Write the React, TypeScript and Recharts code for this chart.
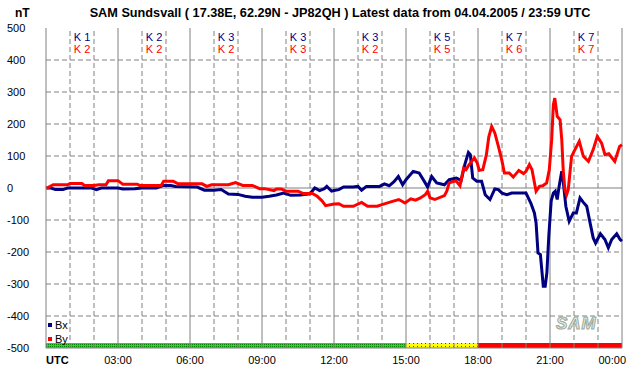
import React from "react";
import { LineChart, Line, XAxis, YAxis, ReferenceLine, ReferenceArea } from "recharts";

// Bx (blue) readings: hour of day (UTC) and value in nT
const bxHours = [
  0, 0.2, 0.4, 0.7, 0.9, 1.5, 1.9, 2.1, 2.3, 3.0, 3.2, 3.7, 4.0, 4.6, 4.9, 5.2, 5.4, 5.8, 6.3, 6.6,
  7.0, 7.3, 7.6, 8.0, 8.3, 8.6, 9.0, 9.3, 9.6, 9.9, 10.2, 10.6, 11.0, 11.2, 11.4, 11.6, 11.7, 11.9, 12.0, 12.2,
  12.4, 12.8, 13.0, 13.15, 13.35, 13.9, 14.1, 14.3, 14.5, 14.68, 14.86, 15.0, 15.3, 15.55, 15.8, 15.9, 16.07, 16.28, 16.6, 16.8,
  17.1, 17.3, 17.45, 17.6, 17.68, 17.78, 17.95, 18.15, 18.3, 18.5, 18.7, 18.85, 19.0, 19.2, 19.4, 19.6, 20.0, 20.2, 20.35, 20.42,
  20.5, 20.6, 20.72, 20.8, 20.87, 20.95, 21.05, 21.14, 21.22, 21.3, 21.38, 21.49, 21.53, 21.66, 21.8, 21.97, 22.1, 22.25, 22.39, 22.53,
  22.67, 22.8, 22.9, 23.1, 23.29, 23.43, 23.57, 23.78, 23.92, 24.0,
];
const bxValues = [
  0, 0, -5, -5, 0, 0, 0, -5, 0, 0, -3, -2, 0, 0, 8, 8, 5, 4, 3, -7,
  -7, -5, -19, -20, -26, -29, -29, -26, -22, -16, -23, -22, -18, 0, -8, -2, 5, -10, -8, -5,
  3, 3, 5, -7, 5, 5, 13, 7, 20, 36, 10, 26, 52, 47, 16, 3, 36, 16, 10, 26,
  31, 24, 73, 111, 104, 31, 21, 21, -21, -36, -3, -5, -16, -21, -16, -16, -16, -47, -78, -109,
  -203, -208, -307, -307, -265, -150, -40, -16, -10, -36, 5, 52, 36, -57, -104, -78, -78, -31, -45, -57,
  -109, -156, -172, -143, -161, -187, -161, -143, -161, -166,
];

// By (red) readings
const byHours = [
  0, 0.1, 0.3, 0.9, 1.0, 1.5, 1.6, 2.0, 2.2, 2.5, 2.6, 3.0, 3.2, 3.8, 3.9, 4.8, 4.9, 5.3, 5.5, 6.5,
  6.7, 6.9, 7.6, 7.9, 8.2, 8.6, 8.9, 9.1, 9.5, 9.6, 9.8, 10.0, 10.5, 10.7, 11.1, 11.3, 11.5, 11.65, 12.0, 12.2,
  12.4, 12.8, 13.15, 13.4, 13.8, 14.0, 14.33, 14.7, 14.85, 14.96, 15.2, 15.4, 15.6, 15.8, 15.9, 16.0, 16.2, 16.6, 16.7, 16.8,
  17.0, 17.1, 17.25, 17.4, 17.5, 17.63, 17.85, 17.97, 18.05, 18.2, 18.35, 18.45, 18.57, 18.7, 18.85, 18.99, 19.1, 19.3, 19.47, 19.7,
  19.9, 20.0, 20.14, 20.25, 20.42, 20.56, 20.7, 20.86, 20.97, 21.07, 21.14, 21.2, 21.3, 21.42, 21.49, 21.55, 21.62, 21.69, 21.76, 21.83,
  21.9, 22.04, 22.22, 22.39, 22.6, 22.8, 22.97, 23.15, 23.29, 23.45, 23.7, 23.9, 24.0,
];
const byValues = [
  0, 2, 10, 10, 14, 14, 8, 8, 10, 10, 23, 23, 12, 12, 8, 8, 21, 21, 13, 13,
  5, 10, 10, 17, 8, 8, -2, -2, -8, -3, -3, -10, -10, -17, -17, -26, -40, -55, -50, -49,
  -57, -57, -45, -57, -57, -52, -44, -36, -42, -47, -34, -38, -31, -21, -10, -31, -36, -24, -10, 16,
  21, 21, 7, 62, 57, 73, 94, 78, 55, 57, 104, 160, 192, 172, 130, 88, 47, 47, 34, 55,
  45, 52, 73, 57, -10, 5, 7, 16, 57, 151, 260, 281, 224, 213, 151, 57, -5, -21, -5, 47,
  99, 120, 146, 99, 83, 120, 161, 140, 104, 107, 83, 130, 135,
];

const seriesNames = ["Bx", "By"];
const seriesColors = ["#000080", "#ff0000"];

// K indices per 3-hour block
const kBlockHours = [1.5, 4.5, 7.5, 10.5, 13.5, 16.5, 19.5, 22.5];
const kBx = ["K 1", "K 2", "K 3", "K 3", "K 3", "K 5", "K 7", "K 7"];
const kBy = ["K 2", "K 2", "K 2", "K 3", "K 2", "K 5", "K 6", "K 7"];

const hourTicks = [0, 3, 6, 9, 12, 15, 18, 21, 24];
const timeLabels = ["UTC", "03:00", "06:00", "09:00", "12:00", "15:00", "18:00", "21:00", "00:00"];
const valueTicks = [500, 400, 300, 200, 100, 0, -100, -200, -300, -400, -500];
const gridHours = Array.from({ length: 24 }, (_, i) => i + 1);
const gridValues = [400, 300, 200, 100, -100, -200, -300, -400];

// activity bar along the bottom: start hour, end hour, fill
const barStarts = [0, 15, 18];
const barEnds = [15, 18, 24];
const barFills = ["url(#greenDots)", "url(#yellowDots)", "#ff0000"];

const bxData = bxHours.map((t, i) => ({ t, v: bxValues[i] }));
const byData = byHours.map((t, i) => ({ t, v: byValues[i] }));

const font = "'Liberation Sans', Arial, sans-serif";
const grey = "#808080";

const TimeTick = (props: any) => {
  const { x, payload, index } = props;
  const first = index === 0;
  const last = index === timeLabels.length - 1;
  return (
    <text
      x={last ? x + 4 : x}
      y={364}
      textAnchor={first ? "start" : last ? "end" : "middle"}
      fontFamily={font}
      fontSize={11}
      fontWeight={first ? "bold" : "normal"}
      fill="#000"
    >
      {timeLabels[index] ?? payload.value}
    </text>
  );
};

const ValueTick = (props: any) => {
  const { y, payload } = props;
  return (
    <text x={7} y={y + 4} textAnchor="start" fontFamily={font} fontSize={11} fill="#000">
      {String(payload.value)}
    </text>
  );
};

const UnitLabel = () => (
  <text x={15} y={17} textAnchor="start" fontFamily={font} fontSize={12} fontWeight="bold" fill="#000">
    nT
  </text>
);

const kLabel = (i: number) => (props: any) => {
  const { viewBox } = props;
  const x = viewBox.x;
  const top = viewBox.y;
  return (
    <g fontFamily={font} fontSize={11} textAnchor="middle">
      <text x={x} y={top + 13} fill={seriesColors[0]}>{kBx[i]}</text>
      <text x={x} y={top + 25} fill={seriesColors[1]}>{kBy[i]}</text>
    </g>
  );
};

export default function App() {
  return (
    <div style={{ position: "absolute", left: 0, top: 0, width: 642, height: 376, background: "#fff", fontFamily: font }}>
      <LineChart width={642} height={376} data={bxData} margin={{ top: 28, right: 20, left: 0, bottom: 0 }}>
        <defs>
          <pattern id="greenDots" width="2" height="2" patternUnits="userSpaceOnUse">
            <rect width="2" height="2" fill="#22dd22" />
            <rect width="1" height="1" fill="#008800" />
          </pattern>
          <pattern id="yellowDots" width="4" height="3" patternUnits="userSpaceOnUse">
            <rect width="4" height="3" fill="#ffff00" />
            <rect x="1" y="1" width="1" height="1" fill="#ff0000" />
          </pattern>
        </defs>
        <XAxis
          dataKey="t"
          type="number"
          domain={[0, 24]}
          ticks={hourTicks}
          interval={0}
          height={28}
          axisLine={{ stroke: grey }}
          tickLine={false}
          tick={<TimeTick />}
        />
        <YAxis
          type="number"
          domain={[-500, 500]}
          ticks={valueTicks}
          interval={0}
          width={46}
          axisLine={{ stroke: grey }}
          tickLine={false}
          tick={<ValueTick />}
          label={<UnitLabel />}
        />
        {gridValues.map(v => (
          <ReferenceLine key={"h" + v} y={v} stroke={grey} strokeDasharray="5 3" />
        ))}
        <ReferenceLine y={0} stroke={grey} />
        {gridHours.map(h => (
          <ReferenceLine key={"v" + h} x={h} stroke={grey} strokeDasharray={h % 3 === 0 ? undefined : "5 3"} />
        ))}
        {kBlockHours.map((h, i) => (
          <ReferenceLine key={"k" + i} x={h} stroke="none" label={kLabel(i)} />
        ))}
        {barStarts.map((s, i) => (
          <ReferenceArea key={"bar" + i} x1={s} x2={barEnds[i]} y1={-500} y2={-484} fill={barFills[i]} fillOpacity={1} stroke="none" />
        ))}
        <Line data={bxData} dataKey="v" name={seriesNames[0]} stroke={seriesColors[0]} strokeWidth={3} dot={false} type="linear" isAnimationActive={false} />
        <Line data={byData} dataKey="v" name={seriesNames[1]} stroke={seriesColors[1]} strokeWidth={3} dot={false} type="linear" isAnimationActive={false} />
      </LineChart>
      <div style={{ position: "absolute", zIndex: 5, left: 40, width: 600, top: 5, fontSize: 12.7, fontWeight: "bold", lineHeight: "16px", textAlign: "center", whiteSpace: "nowrap" }}>
        SAM Sundsvall ( 17.38E, 62.29N - JP82QH ) Latest data from 04.04.2005 / 23:59 UTC
      </div>
      <div style={{ position: "absolute", zIndex: 5, left: 48, top: 318, fontSize: 11, lineHeight: "14px" }}>
        {seriesNames.map((n, i) => (
          <div key={n} style={{ display: "flex", alignItems: "center" }}>
            <span style={{ display: "inline-block", width: 4, height: 4, background: seriesColors[i], marginRight: 3 }} />
            {n}
          </div>
        ))}
      </div>
      <div
        style={{
          position: "absolute",
          zIndex: 5,
          left: 556,
          top: 314,
          fontSize: 17,
          fontWeight: "bold",
          fontStyle: "italic",
          color: "#e8f0e8",
          WebkitTextStroke: "1px #9aa89a",
          letterSpacing: 1,
        }}
      >
        SAM
      </div>
    </div>
  );
}
